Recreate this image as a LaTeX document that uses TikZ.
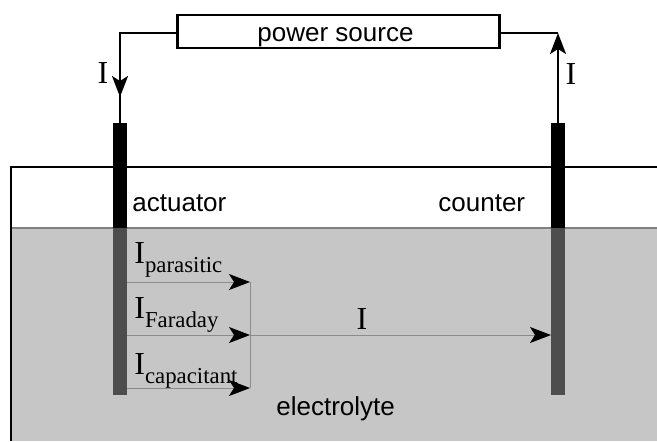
\documentclass[tikz,border=0pt]{standalone}
\usepackage{fontspec}
\setmainfont{Liberation Serif}
\setsansfont{Liberation Sans}
\usepackage{xcolor}
\usetikzlibrary{arrows.meta, positioning, calc}
\definecolor{bathgray}{HTML}{C6C6C6}
\definecolor{wetgray}{HTML}{4D4D4D}
\definecolor{branchgray}{HTML}{8C8C8C}
\newcommand{\sanslabel}{\fontsize{13}{15}\selectfont\sffamily}
\newcommand{\curlabel}[1]{\fontsize{16}{18}\selectfont I\raisebox{-4.7pt}{\fontsize{11.4}{13}\selectfont #1}}
\tikzset{
  wire/.style={draw=black, line width=1.1pt},
  branch/.style={draw=branchgray, line width=0.5pt},
  bighead/.style={-{Stealth[length=10.5pt,width=8pt,inset=2.5pt,black]}},
  drytop/.style={fill=black, draw=none, inner sep=0pt, minimum width=7pt, minimum height=52.5pt, anchor=north},
  wetpart/.style={fill=wetgray, draw=none, inner sep=0pt, minimum width=7pt, minimum height=83.5pt, anchor=north}
}

\begin{document}
\begin{tikzpicture}[x=0.5pt, y=-0.5pt]
  \useasboundingbox (0,0) rectangle (657,441);

  % electrolyte bath
  \fill[bathgray] (11,228) rectangle (657,441);
  \draw[draw=gray, line width=0.9pt] (11,228) -- (657,228);
  \draw[line width=0.8pt] (657,167) -- (11,167) -- (11,441);

  % electrodes
  \node[drytop] (actuatortop) at (120,123) {};
  \node[wetpart] (actuatorwet) at (120,228) {};
  \node[drytop] (countertop) at (558,123) {};
  \node[wetpart] (counterwet) at (558,228) {};

  % source and outer circuit
  \node[draw, line width=1.1pt, fill=white, minimum width=161pt, minimum height=16.5pt, inner sep=0pt,
        text height=9.5pt, text depth=0pt, font=\sanslabel] (source) at (338.5,31.5) {power source\kern3pt};
  \coordinate (leftcorner) at (120,33);
  \coordinate (rightcorner) at (558,33);
  \coordinate (leftmid) at (120,97);
  \draw[wire] (source.west |- leftcorner) -- (leftcorner) -- (leftmid);
  \draw[wire, bighead] (leftcorner) -- (leftmid);
  \draw[wire] (leftmid) -- (actuatortop.north);
  \draw[wire] (source.east |- rightcorner) -- (rightcorner);
  \draw[wire, bighead] (countertop.north) -- (rightcorner);

  % branches in the electrolyte
  \coordinate (jointtop) at (250,282);
  \coordinate (jointmid) at (250,335);
  \coordinate (jointbot) at (250,388);
  \coordinate (countertip) at (551,335);
  \draw[branch] (jointtop) -- (jointbot);
  \foreach \n/\y in {top/282, mid/335, bot/388}{
    \draw[branch, bighead] (127,\y) -- (joint\n);
  }
  \draw[branch, bighead] (jointmid) -- (countertip);

  % labels
  \node[font=\sanslabel, anchor=base west, inner sep=0pt] (actlabel) at (132,211) {actuator};
  \node[font=\sanslabel, anchor=base west, inner sep=0pt] (cntlabel) at (438,211) {counter};
  \node[font=\sanslabel, anchor=base west, inner sep=0pt] (ellabel) at (276,415) {electrolyte};
  \node[anchor=base, inner sep=0pt, font=\fontsize{16}{18}\selectfont] (ileft) at (103,83) {I};
  \node[anchor=base, inner sep=0pt, font=\fontsize{16}{18}\selectfont] (iright) at (571,84) {I};
  \node[anchor=base, inner sep=0pt, font=\fontsize{16}{18}\selectfont] (imid) at (362,329) {I};
  \node[anchor=base west, inner sep=0pt] (ipar) at (134,263) {\curlabel{parasitic}};
  \node[anchor=base west, inner sep=0pt] (ifar) at (134,318) {\curlabel{Faraday}};
  \node[anchor=base west, inner sep=0pt] (icap) at (134,374) {\curlabel{capacitant}};
\end{tikzpicture}
\end{document}
